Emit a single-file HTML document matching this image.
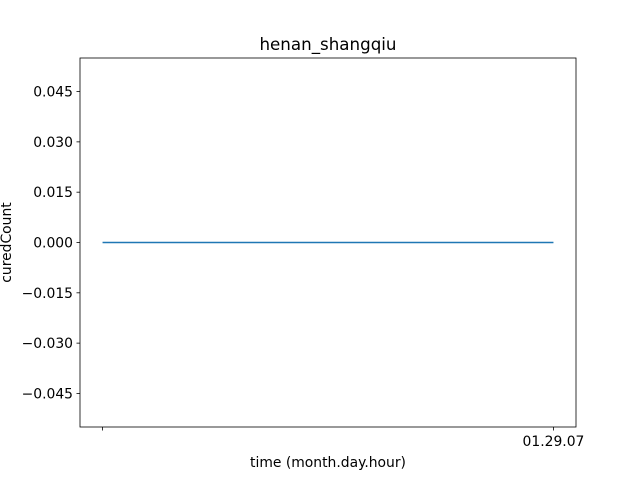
<!DOCTYPE html>
<html><head><meta charset="utf-8"><style>
body{margin:0;background:#fff;}
svg{display:block;font-family:"DejaVu Sans","Liberation Sans",sans-serif;}
</style></head><body>
<svg id="chart" width="640" height="480" viewBox="0 0 640 480">
<rect width="640" height="480" fill="#fff"/>
<g id="plot"></g>
</svg>
<script>
const categories = ["", "01.29.07"];
const seriesValues = [0, 0];
const yTicks = [-0.045, -0.030, -0.015, 0.000, 0.015, 0.030, 0.045];
const yLabels = ["\u22120.045", "\u22120.030", "\u22120.015", "0.000", "0.015", "0.030", "0.045"];

const L = 80, R = 576, T = 58, B = 427;
const yMin = -0.055, yMax = 0.055;
const xMin = -0.05, xMax = categories.length - 1 + 0.05;
const xs = i => L + (i - xMin) / (xMax - xMin) * (R - L);
const ys = v => B - (v - yMin) / (yMax - yMin) * (B - T);
const NS = "http://www.w3.org/2000/svg";
const g = document.getElementById('plot');
function mk(tag, attrs, parent) {
  const e = document.createElementNS(NS, tag);
  for (const k in attrs) e.setAttribute(k, attrs[k]);
  (parent || g).appendChild(e);
  return e;
}

const title = mk('text', {x: (L + R) / 2, y: 50, 'text-anchor': 'middle', 'font-size': 16.7, fill: '#000'});
title.textContent = "henan_shangqiu";



yTicks.forEach((v, i) => {
  const y = ys(v);
  const t = mk('line', {x1: L - 3.5, x2: L, y1: y, y2: y, stroke: '#000', 'stroke-width': 0.8});
  
  
  const lb = mk('text', {x: L - 7, y: y + 5, 'text-anchor': 'end', 'font-size': 13.9, fill: '#000'});
  lb.textContent = yLabels[i];
  
  
});

categories.forEach((c, i) => {
  const x = xs(i);
  const t = mk('line', {x1: x, x2: x, y1: B, y2: B + 3.5, stroke: '#000', 'stroke-width': 0.8});
  
  
  const lb = mk('text', {x: x, y: B + 19, 'text-anchor': 'middle', 'font-size': 13.9, fill: '#000'});
  lb.textContent = c;
  
  
});

const pts = seriesValues.map((v, i) => xs(i) + ',' + ys(v)).join(' ');
const line = mk('polyline', {points: pts, fill: 'none', stroke: '#1f77b4', 'stroke-width': 1.5});



const frame = mk('rect', {x: L, y: T, width: R - L, height: B - T, fill: 'none', stroke: '#000', 'stroke-width': 0.8});



const xt = mk('text', {x: (L + R) / 2, y: 467, 'text-anchor': 'middle', 'font-size': 13.9, fill: '#000'});
xt.textContent = "time (month.day.hour)";



const yt = mk('text', {x: 0, y: 0, 'text-anchor': 'middle', 'font-size': 13.9, fill: '#000', transform: 'translate(11,' + (T + B) / 2 + ') rotate(-90)'});
yt.textContent = "curedCount";


</script>
</body></html>
